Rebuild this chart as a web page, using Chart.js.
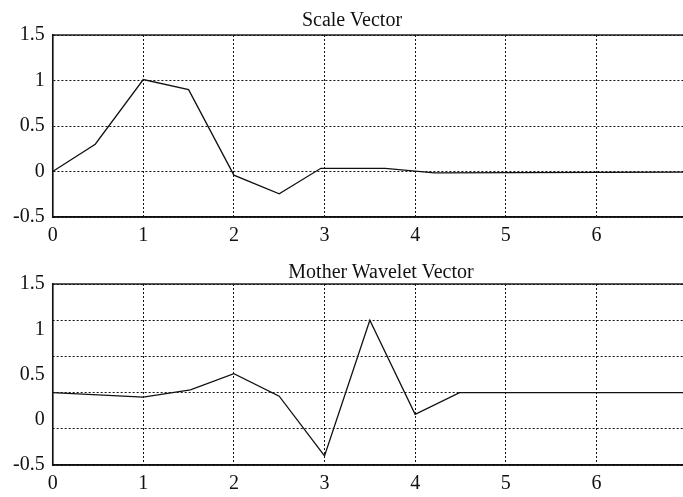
<!DOCTYPE html>
<html>
<head>
<meta charset="utf-8">
<title>Scale and Mother Wavelet Vectors</title>
<script src="https://cdn.jsdelivr.net/npm/chart.js@4/dist/chart.umd.min.js"></script>
<style>
  body { margin: 0; background: #fff; overflow: hidden; }
  #page { position: relative; width: 683px; height: 497px; overflow: hidden; }
  canvas { position: absolute; left: 0; display: block; }
  #scaleChart { top: 0; }
  #waveChart { top: 248px; }
  .plot-title {
    position: absolute;
    transform: translateX(-50%);
    font-family: "Liberation Serif", serif;
    font-size: 20px;
    line-height: 20px;
    color: #111;
    white-space: nowrap;
  }
</style>
</head>
<body>
<div id="page">
  <canvas id="scaleChart" width="700" height="256"></canvas>
  <canvas id="waveChart" width="700" height="256"></canvas>
  <div class="plot-title" style="left:352px; top:9px;">Scale Vector</div>
  <div class="plot-title" style="left:381px; top:261px;">Mother Wavelet Vector</div>
</div>
<script>
// scaling function samples
const scaleX = [0, 0.47, 1, 1.5, 2, 2.5, 2.96, 3.67, 4.21, 7];
const scaleY = [0, 0.30, 1.01, 0.90, -0.04, -0.245, 0.035, 0.035, -0.015, -0.007];

// wavelet function samples
const waveX = [0, 1, 1.52, 2, 2.5, 3, 3.5, 4, 4.49, 7];
const waveY = [0.30, 0.25, 0.33, 0.51, 0.26, -0.40, 1.10, 0.06, 0.30, 0.30];

const xTicks = [0, 1, 2, 3, 4, 5, 6, 7];
const yTicks = [-0.5, 0, 0.5, 1, 1.5];

const ink = "#111";
const font = { family: "Liberation Serif", size: 20 };

// closes the box on the top and right of the plot
const framePlugin = {
  id: "frame",
  afterDatasetsDraw(chart) {
    const { ctx, chartArea: a } = chart;
    ctx.save();
    ctx.strokeStyle = ink;
    ctx.lineWidth = 1.4;
    ctx.strokeRect(a.left, a.top, a.right - a.left, a.bottom - a.top);
    ctx.restore();
  }
};

function points(xs, ys) {
  return xs.map((x, i) => ({ x: x, y: ys[i] }));
}

function makeChart(id, xs, ys, topPad, splitGrid) {
  const scales = {
    x: {
      type: "linear",
      min: xTicks[0],
      max: xTicks[xTicks.length - 1],
      afterBuildTicks: axis => { axis.ticks = xTicks.map(v => ({ value: v })); },
      ticks: { color: ink, font: font, padding: 7, maxRotation: 0, autoSkip: false,
               callback: v => String(v) },
      grid: { color: ink, lineWidth: 1, drawTicks: false, tickLength: 0 },
      border: { color: ink, width: 1.4, dash: [2, 2] }
    },
    y: {
      min: yTicks[0],
      max: yTicks[yTicks.length - 1],
      afterBuildTicks: axis => { axis.ticks = yTicks.map(v => ({ value: v })); },
      ticks: { color: ink, font: font, padding: 8, callback: v => String(v) },
      grid: { display: !splitGrid, color: ink, lineWidth: 1, drawTicks: false, tickLength: 0 },
      border: { color: ink, width: 1.4, dash: [2, 2] }
    }
  };

  if (splitGrid) {
    // dotted guide lines on their own finer axis
    scales.yGrid = {
      position: "right",
      min: -1,
      max: 1.5,
      ticks: { display: false, stepSize: 0.5 },
      grid: { color: ink, lineWidth: 1, drawTicks: false, tickLength: 0 },
      border: { display: false, dash: [2, 2] }
    };
  }

  return new Chart(document.getElementById(id), {
    type: "line",
    data: {
      datasets: [{
        data: points(xs, ys),
        borderColor: ink,
        borderWidth: 1.3,
        pointRadius: 0,
        tension: 0,
        fill: false,
        yAxisID: "y"
      }]
    },
    options: {
      responsive: false,
      animation: false,
      layout: { padding: { left: 5, right: 13, top: topPad, bottom: 1 } },
      plugins: {
        legend: { display: false },
        tooltip: { enabled: false },
        title: { display: false }
      },
      scales: scales
    },
    plugins: [framePlugin]
  });
}

makeChart("scaleChart", scaleX, scaleY, 35, false);
makeChart("waveChart", waveX, waveY, 36, true);
</script>
</body>
</html>
